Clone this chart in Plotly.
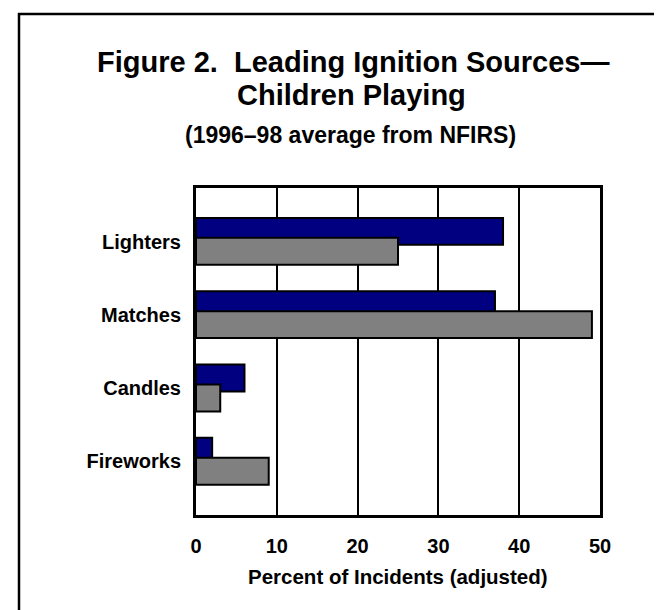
import plotly.graph_objects as go

categories = ["Lighters", "Matches", "Candles", "Fireworks"]
series_a = [38, 37, 6, 2]      # navy series
series_b = [25, 49, 3, 9]      # gray series
x_ticks = [0, 10, 20, 30, 40, 50]

W, H = 662, 610
L, R, T, B = 188, 592, 180, 507   # plot area in pixels

def px(x):
    return (x - L) / (R - L)

def py(y):
    return (B - y) / (B - T)

FONT = "Liberation Sans, Arial, sans-serif"
bar_w = 0.367

fig = go.Figure()
fig.add_trace(go.Bar(
    y=categories, x=series_a, orientation="h",
    marker=dict(color="#000080", line=dict(color="black", width=2)),
    width=bar_w, offset=-0.322, showlegend=False,
))
fig.add_trace(go.Bar(
    y=categories, x=series_b, orientation="h",
    marker=dict(color="#808080", line=dict(color="black", width=2)),
    width=bar_w, offset=-0.05, showlegend=False,
))

fig.update_layout(
    width=W, height=H,
    margin=dict(l=L, r=W - R, t=T, b=H - B),
    paper_bgcolor="white", plot_bgcolor="white",
    barmode="overlay",
    font=dict(family=FONT, color="black"),
    xaxis=dict(
        range=[0, 50], tickvals=x_ticks, showgrid=True, gridcolor="black",
        gridwidth=2, zeroline=False, showline=True, linecolor="black",
        linewidth=3, mirror=True, ticks="", ticklabelstandoff=11,
        tickfont=dict(size=20, family=FONT, weight="bold"),
    ),
    yaxis=dict(
        type="category", categoryorder="array", categoryarray=categories,
        range=[3.73, -0.73], showgrid=False, zeroline=False, showline=True,
        linecolor="black", linewidth=3, mirror=True, ticks="",
        ticklabelstandoff=8,
        tickfont=dict(size=20, family=FONT, weight="bold"),
    ),
    shapes=[dict(
        type="rect", xref="paper", yref="paper",
        x0=px(11), x1=px(W + 10), y0=py(H + 10), y1=py(6),
        line=dict(color="black", width=2.5), fillcolor="rgba(0,0,0,0)",
        layer="above",
    )],
    annotations=[
        dict(text="<b>Figure 2.  Leading Ignition Sources—</b>", xref="paper", yref="paper",
             x=px(345), y=py(54), xanchor="center", yanchor="middle",
             showarrow=False, font=dict(size=29, family=FONT)),
        dict(text="<b>Children Playing</b>", xref="paper", yref="paper",
             x=px(343), y=py(87), xanchor="center", yanchor="middle",
             showarrow=False, font=dict(size=29, family=FONT)),
        dict(text="<b>(1996–98 average from NFIRS)</b>", xref="paper", yref="paper",
             x=px(342), y=py(127), xanchor="center", yanchor="middle",
             showarrow=False, font=dict(size=23, family=FONT)),
        dict(text="<b>Percent of Incidents (adjusted)</b>", xref="paper", yref="paper",
             x=px(390), y=py(568), xanchor="center", yanchor="middle",
             showarrow=False, font=dict(size=20.5, family=FONT)),
    ],
)

fig.write_html("out.html")
